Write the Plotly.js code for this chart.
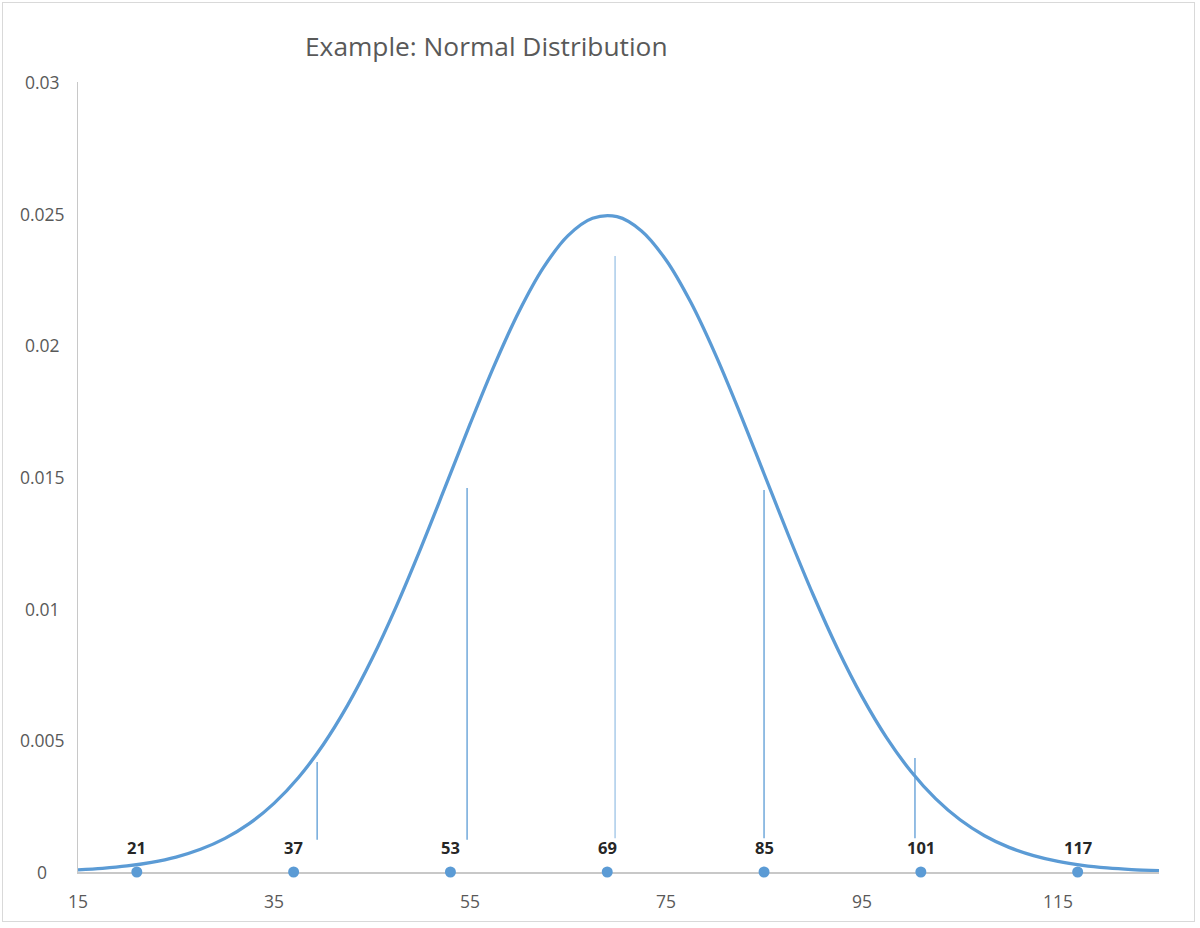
<!DOCTYPE html>
<html>
<head>
<meta charset="utf-8">
<script src="https://cdn.plot.ly/plotly-3.0.1.min.js"></script>
<style>
html,body{margin:0;padding:0;background:#fff;}
#frame{position:absolute;left:2px;top:2px;width:1193px;height:920px;border:1.5px solid #d9d9d9;box-sizing:border-box;}
#chart{position:absolute;left:0;top:0;width:1200px;height:928px;}
</style>
</head>
<body>
<div id="frame"></div>
<div id="chart"></div>
<script>
// Curve values
const curveX = [15, 17.5, 20, 22.5, 25, 27.5, 30, 32.5, 35, 37.5, 40, 42.5, 45, 47.5, 50, 52.5, 55, 57.5, 60, 62.5, 65, 67.5, 70, 72.5, 75, 77.5, 80, 82.5, 85, 87.5, 90, 92.5, 95, 97.5, 100, 102.5, 105, 107.5, 110, 112.5, 115, 117.5, 120, 122.5, 125.3];
const curveY = [0.000084, 0.00014, 0.000229, 0.000366, 0.000568, 0.000863, 0.001278, 0.001848, 0.002607, 0.00359, 0.004823, 0.006326, 0.008095, 0.010109, 0.01232, 0.014651, 0.017004, 0.019258, 0.021286, 0.022959, 0.024167, 0.024825, 0.024885, 0.024345, 0.023241, 0.021652, 0.019686, 0.017467, 0.015123, 0.012779, 0.010537, 0.008479, 0.006659, 0.005103, 0.003816, 0.002785, 0.001984, 0.001379, 0.000935, 0.000619, 0.0004, 0.000252, 0.000155, 0.000093, 0.000053];

// Marked points on the axis
const pointX = [21, 37, 53, 69, 85, 101, 117];
const pointY = [0, 0, 0, 0, 0, 0, 0];
const pointLabels = ['21', '37', '53', '69', '85', '101', '117'];

// Vertical reference lines
const vlineX = [39.4, 54.7, 69.8, 85.0, 100.4];
const vlineBottom = [0.00122, 0.00122, 0.00128, 0.00128, 0.00128];
const vlineTop = [0.00418, 0.01458, 0.02339, 0.01451, 0.00433];
const vlineColors = ['#5B9BD5', '#5B9BD5', '#9DC3E6', '#5B9BD5', '#5B9BD5'];

// Axis ticks
const xTicks = [15, 35, 55, 75, 95, 115];
const yTicks = [0, 0.005, 0.01, 0.015, 0.02, 0.025, 0.03];
const yTickLabels = ['0', '0.005', '0.01', '0.015', '0.02', '0.025', '0.03'];

const FONT = 'Open Sans, Lato, sans-serif';

const traces = [];
vlineX.forEach((x, i) => {
  traces.push({
    type: 'scatter', mode: 'lines',
    x: [x, x], y: [vlineBottom[i], vlineTop[i]],
    line: {color: vlineColors[i], width: 1.3},
    hoverinfo: 'skip', showlegend: false
  });
});
traces.push({
  type: 'scatter', mode: 'lines',
  x: curveX, y: curveY,
  line: {color: '#5B9BD5', width: 3.3, shape: 'spline', smoothing: 1},
  cliponaxis: false,
  showlegend: false
});
traces.push({
  type: 'scatter', mode: 'markers',
  x: pointX, y: pointY,
  marker: {color: '#5B9BD5', size: 11},
  cliponaxis: false,
  showlegend: false
});

const annotations = yTicks.map((v, i) => ({
  xref: 'paper', yref: 'y', x: 0, y: v,
  xshift: -36, xanchor: 'center', yanchor: 'middle',
  text: yTickLabels[i], showarrow: false,
  font: {family: FONT, size: 17.5, color: '#595959'}
})).concat(pointX.map((x, i) => ({
  xref: 'x', yref: 'y', x: x, y: pointY[i],
  yshift: 25, xanchor: 'center', yanchor: 'middle',
  text: '<b>' + pointLabels[i] + '</b>', showarrow: false,
  font: {family: FONT, size: 16.5, color: '#262626'}
})));

const layout = {
  width: 1200, height: 928,
  paper_bgcolor: 'rgba(0,0,0,0)', plot_bgcolor: 'rgba(0,0,0,0)',
  margin: {l: 78, r: 41, t: 82, b: 56},
  title: {
    text: 'Example: Normal Distribution',
    x: 305/1200, xanchor: 'left', xref: 'container',
    y: 1 - 47/928, yanchor: 'middle', yref: 'container',
    font: {family: FONT, size: 26.3, color: '#595959'}
  },
  xaxis: {
    range: [15, 125.3], tickvals: xTicks, ticktext: xTicks.map(String),
    showgrid: false, zeroline: false, layer: 'below traces',
    showline: true, linecolor: '#C8C8C8', linewidth: 2,
    ticks: '', ticklabelstandoff: 13,
    tickfont: {family: FONT, size: 17.5, color: '#595959'}
  },
  yaxis: {
    range: [0, 0.03], tickvals: yTicks, showticklabels: false,
    showgrid: false, zeroline: false, layer: 'below traces',
    showline: true, linecolor: '#C8C8C8', linewidth: 1.5, ticks: ''
  },
  annotations: annotations
};

Plotly.newPlot('chart', traces, layout, {displayModeBar: false, staticPlot: true});
</script>
</body>
</html>
